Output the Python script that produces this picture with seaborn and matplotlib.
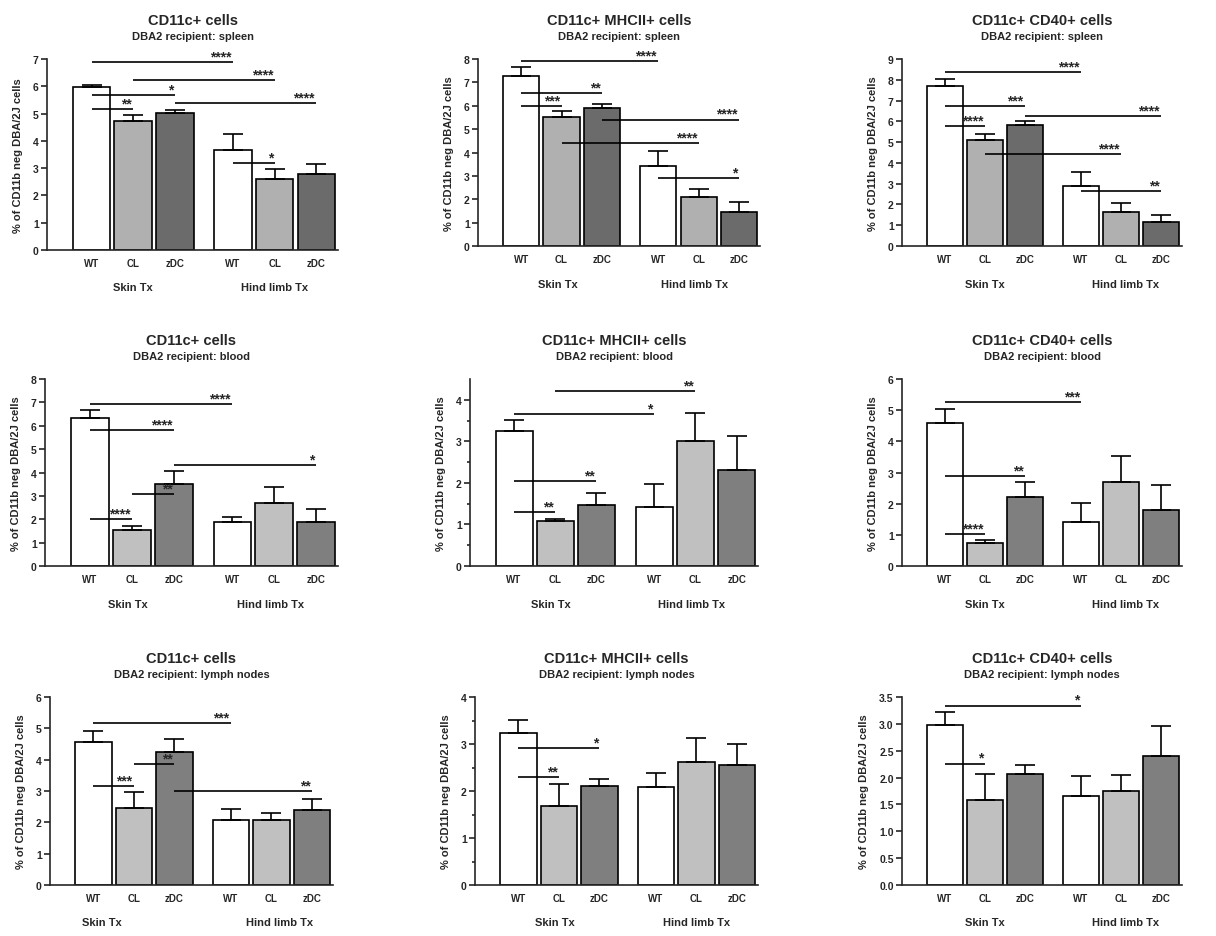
import numpy as np
import pandas as pd
import matplotlib.pyplot as plt
import seaborn as sns

sns.set_theme(style="ticks")
plt.rcParams['font.family'] = ['Liberation Sans', 'DejaVu Sans']
plt.rcParams['font.weight'] = 'bold'

# bar labels and positions (gap between the two transplant groups)
groups = ['WT', 'CL', 'zDC', 'WT', 'CL', 'zDC']
genotype = ['WT', 'CL', 'zDC', 'WT', 'CL', 'zDC']
positions = [0, 1, 2, 3.4, 4.4, 5.4]
tx_labels = ['Skin Tx', 'Hind limb Tx']

titles = ['CD11c+ cells', 'CD11c+ MHCII+ cells', 'CD11c+ CD40+ cells']
tissues = ['spleen', 'blood', 'lymph nodes']

# means and upper error (SEM)
spleen_cd11c = [5.96, 4.71, 5.01, 3.68, 2.59, 2.78]
spleen_cd11c_err = [0.10, 0.23, 0.13, 0.58, 0.37, 0.37]
spleen_mhc = [7.29, 5.53, 5.89, 3.43, 2.09, 1.47]
spleen_mhc_err = [0.35, 0.26, 0.20, 0.64, 0.34, 0.43]
spleen_cd40 = [7.70, 5.11, 5.80, 2.89, 1.66, 1.16]
spleen_cd40_err = [0.32, 0.28, 0.23, 0.68, 0.41, 0.32]

blood_cd11c = [6.33, 1.53, 3.51, 1.87, 2.71, 1.87]
blood_cd11c_err = [0.34, 0.18, 0.56, 0.23, 0.65, 0.56]
blood_mhc = [3.24, 1.09, 1.46, 1.42, 3.01, 2.32]
blood_mhc_err = [0.27, 0.05, 0.30, 0.55, 0.66, 0.80]
blood_cd40 = [4.59, 0.75, 2.21, 1.42, 2.69, 1.80]
blood_cd40_err = [0.45, 0.10, 0.48, 0.59, 0.85, 0.81]

ln_cd11c = [4.55, 2.45, 4.24, 2.09, 2.06, 2.40]
ln_cd11c_err = [0.36, 0.51, 0.41, 0.32, 0.25, 0.35]
ln_mhc = [3.24, 1.69, 2.10, 2.08, 2.61, 2.56]
ln_mhc_err = [0.28, 0.45, 0.16, 0.30, 0.51, 0.43]
ln_cd40 = [2.97, 1.59, 2.06, 1.66, 1.75, 2.41]
ln_cd40_err = [0.26, 0.47, 0.17, 0.37, 0.30, 0.55]

# significance bars: (from bar, to bar, height, stars)
spleen_cd11c_sig = [(0, 3, 6.90, '****'), (1, 4, 6.24, '****'), (0, 2, 5.69, '*'),
                    (2, 5, 5.37, '****'), (0, 1, 5.18, '**'), (3, 4, 3.19, '*')]
spleen_mhc_sig = [(0, 3, 7.93, '****'), (0, 2, 6.56, '**'), (0, 1, 5.99, '***'),
                  (2, 5, 5.41, '****'), (1, 4, 4.40, '****'), (3, 5, 2.89, '*')]
spleen_cd40_sig = [(0, 3, 8.36, '****'), (0, 2, 6.72, '***'), (2, 5, 6.27, '****'),
                   (0, 1, 5.79, '****'), (1, 4, 4.42, '****'), (3, 5, 2.64, '**')]
blood_cd11c_sig = [(0, 3, 6.94, '****'), (0, 2, 5.83, '****'), (2, 5, 4.33, '*'),
                   (1, 2, 3.09, '**'), (0, 1, 1.99, '****')]
blood_mhc_sig = [(1, 4, 4.22, '**'), (0, 3, 3.65, '*'), (0, 2, 2.04, '**'),
                 (0, 1, 1.30, '**')]
blood_cd40_sig = [(0, 3, 5.25, '***'), (0, 2, 2.89, '**'), (0, 1, 1.03, '****')]
ln_cd11c_sig = [(0, 3, 5.16, '***'), (1, 2, 3.87, '**'), (0, 1, 3.17, '***'),
                (2, 5, 2.99, '**')]
ln_mhc_sig = [(0, 2, 2.91, '*'), (0, 1, 2.29, '**')]
ln_cd40_sig = [(0, 3, 3.34, '*'), (0, 1, 2.26, '*')]

panels = [
    (spleen_cd11c, spleen_cd11c_err, spleen_cd11c_sig),
    (spleen_mhc, spleen_mhc_err, spleen_mhc_sig),
    (spleen_cd40, spleen_cd40_err, spleen_cd40_sig),
    (blood_cd11c, blood_cd11c_err, blood_cd11c_sig),
    (blood_mhc, blood_mhc_err, blood_mhc_sig),
    (blood_cd40, blood_cd40_err, blood_cd40_sig),
    (ln_cd11c, ln_cd11c_err, ln_cd11c_sig),
    (ln_mhc, ln_mhc_err, ln_mhc_sig),
    (ln_cd40, ln_cd40_err, ln_cd40_sig),
]
ymax = [7, 8, 9, 8, 4.5, 6, 6, 4, 3.5]
ystep = [1, 1, 1, 1, 1, 1, 1, 1, 0.5]
ytop_tick = [7, 8, 9, 8, 4, 6, 6, 4, 3.5]
tx_x = [(1.0, 4.4), (0.9, 4.3), (1.0, 4.5), (0.9, 4.3), (0.9, 4.3),
        (1.0, 4.5), (0.2, 4.6), (0.9, 4.4), (1.0, 4.5)]

# axes boxes in pixels: left, right, top, bottom
boxes = [(47, 338, 60, 251), (478, 760, 60, 247), (902, 1182, 60, 247),
         (45, 338, 380, 567), (470, 758, 380, 567), (902, 1182, 380, 567),
         (50, 333, 698, 886), (475, 758, 698, 886), (902, 1182, 698, 886)]

row_colors = [{'WT': '#ffffff', 'CL': '#b0b0b0', 'zDC': '#6b6b6b'},
              {'WT': '#ffffff', 'CL': '#c0c0c0', 'zDC': '#7f7f7f'},
              {'WT': '#ffffff', 'CL': '#c0c0c0', 'zDC': '#7f7f7f'}]

W, H = 1216, 937
fig = plt.figure(figsize=(W / 100, H / 100), dpi=100)

for k, (means, errs, sigs) in enumerate(panels):
    l, r, t, b = boxes[k]
    ax = fig.add_axes([l / W, 1 - b / H, (r - l) / W, (b - t) / H])
    row = k // 3
    df = pd.DataFrame({'pos': positions, 'mean': means, 'genotype': genotype})
    sns.barplot(data=df, x='pos', y='mean', hue='genotype', dodge=False,
                native_scale=True, width=0.9, palette=row_colors[row],
                edgecolor='black', linewidth=1.2, errorbar=None, legend=False, ax=ax)
    ax.errorbar(positions, means, yerr=[np.zeros(6), errs], fmt='none',
                ecolor='black', elinewidth=1.2, capsize=7, capthick=1.2, zorder=3)

    for i, j, y, lab in sigs:
        ax.plot([positions[i], positions[j]], [y, y], color='black', lw=1.2,
                solid_capstyle='butt', zorder=4)
        ax.annotate(lab, (positions[j], y), xytext=(-1, 1.2), textcoords='offset points',
                    ha='right', va='baseline', fontsize=10, fontweight='bold')

    ax.set_xlim(-1.07, 5.92)
    ax.set_ylim(0, ymax[k])
    ticks = np.arange(0, ytop_tick[k] + 1e-9, ystep[k])
    ax.set_yticks(ticks)
    if ystep[k] < 1:
        ax.set_yticklabels([f'{v:.1f}' for v in ticks])
    else:
        ax.set_yticklabels([f'{v:g}' for v in ticks])
        if ymax[k] <= 4.5:
            ax.set_yticks(np.arange(0.5, ymax[k], 1.0), minor=True)
    ax.set_xticks(positions, groups)
    ax.tick_params(axis='x', length=0, pad=6, labelsize=7)
    ax.tick_params(axis='y', which='major', length=4, width=1.2, pad=2, labelsize=7.5)
    ax.tick_params(axis='y', which='minor', length=2.5, width=1.2)
    for lab in ax.get_xticklabels() + ax.get_yticklabels():
        lab.set_fontweight('bold')
    ax.set_xlabel('')
    ax.set_ylabel('% of CD11b neg DBA/2J cells', fontsize=8, fontweight='bold', labelpad=7)
    sns.despine(ax=ax)
    for s in ['left', 'bottom']:
        ax.spines[s].set_linewidth(1.2)

    for gx, gl in zip(tx_x[k], tx_labels):
        ax.annotate(gl, (gx, 0), xycoords=('data', 'axes fraction'), xytext=(0, -27),
                    textcoords='offset points', ha='center', va='center',
                    fontsize=8, fontweight='bold')

    ax.annotate(titles[k % 3], (0.5, 1), xycoords='axes fraction', xytext=(0, 28),
                textcoords='offset points', ha='center', va='center',
                fontsize=10.5, fontweight='bold')
    ax.annotate(f'DBA2 recipient: {tissues[row]}', (0.5, 1), xycoords='axes fraction',
                xytext=(0, 16.5), textcoords='offset points', ha='center', va='center',
                fontsize=8, fontweight='bold')

fig.savefig('out.png', dpi=100, facecolor='white')
